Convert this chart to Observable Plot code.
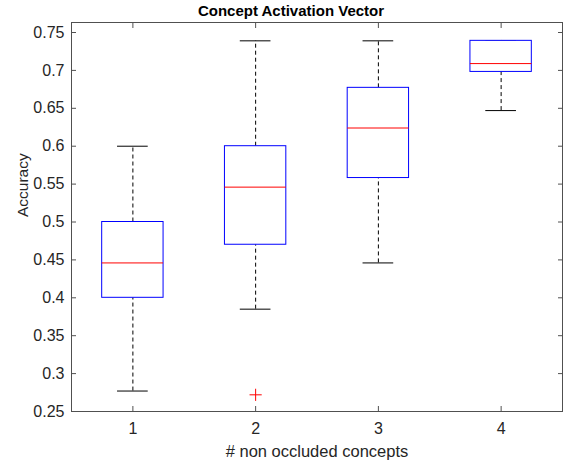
<!DOCTYPE html>
<html>
<head>
<meta charset="utf-8">
<script src="https://cdn.jsdelivr.net/npm/d3@7"></script>
<script src="https://cdn.jsdelivr.net/npm/@observablehq/plot@0.6"></script>
<style>
  body { margin: 0; background: #fff; }
  #wrap { position: relative; width: 571px; height: 460px; font-family: "Liberation Sans", Arial, sans-serif; }
  #title { position: absolute; z-index: 2; left: 0; top: 2px; width: 582px; text-align: center; font-weight: bold; font-size: 15px; color: #000; }
</style>
</head>
<body>
<div id="wrap"><div id="title">Concept Activation Vector</div></div>
<script>
const categories = [1, 2, 3, 4];
const lowerWhisker = [0.277, 0.385, 0.446, 0.647];
const q1 = [0.400, 0.470, 0.558, 0.698];
const median = [0.446, 0.546, 0.624, 0.709];
const q3 = [0.500, 0.600, 0.677, 0.739];
const upperWhisker = [0.600, 0.739, 0.739, 0.739];
const outlierCategory = [2];
const outlierValue = [0.272];
const yTicks = [0.25, 0.3, 0.35, 0.4, 0.45, 0.5, 0.55, 0.6, 0.65, 0.7, 0.75];
const xTicks = [1, 2, 3, 4];

const boxes = categories.map((c, i) => ({
  c, lo: lowerWhisker[i], q1: q1[i], med: median[i], q3: q3[i], hi: upperWhisker[i]
}));
const outliers = outlierCategory.map((c, i) => ({c, v: outlierValue[i]}));

const axisColor = "#505050";
const chart = Plot.plot({
  width: 571,
  height: 460,
  marginLeft: 71,
  marginRight: 9,
  marginTop: 22,
  marginBottom: 49,
  style: {fontFamily: "'Liberation Sans', Arial, sans-serif", fontSize: "16px", color: "#262626", background: "#fff"},
  x: {domain: [0.5, 4.5]},
  y: {domain: [0.25, 0.7632]},
  marks: [
    Plot.frame({stroke: axisColor}),
    Plot.axisX({anchor: "bottom", ticks: xTicks, tickSize: -5, tickPadding: 16, stroke: axisColor, fill: "#262626", fontSize: 16, tickFormat: d => String(d), label: null}),
    Plot.axisX({anchor: "top", ticks: xTicks, tickSize: -5, tickFormat: () => "", stroke: axisColor, label: null}),
    Plot.axisY({anchor: "left", ticks: yTicks, tickSize: -5, tickPadding: 12, stroke: axisColor, fill: "#262626", fontSize: 16, tickFormat: d => String(+d.toFixed(2)), label: null}),
    Plot.axisY({anchor: "right", ticks: yTicks, tickSize: -5, tickFormat: () => "", stroke: axisColor, label: null}),
    // whiskers
    Plot.ruleX(boxes, {x: "c", y1: "q3", y2: "hi", stroke: "#000", strokeDasharray: "4,3", strokeWidth: 1}),
    Plot.ruleX(boxes, {x: "c", y1: "lo", y2: "q1", stroke: "#000", strokeDasharray: "4,3", strokeWidth: 1}),
    // caps
    Plot.ruleY(boxes, {y: "hi", x1: d => d.c - 0.125, x2: d => d.c + 0.125, stroke: "#000"}),
    Plot.ruleY(boxes, {y: "lo", x1: d => d.c - 0.125, x2: d => d.c + 0.125, stroke: "#000"}),
    // boxes
    Plot.rect(boxes, {x1: d => d.c - 0.25, x2: d => d.c + 0.25, y1: "q1", y2: "q3", fill: "white", stroke: "blue", strokeWidth: 1}),
    // medians
    Plot.ruleY(boxes, {y: "med", x1: d => d.c - 0.25, x2: d => d.c + 0.25, stroke: "red", strokeWidth: 1}),
    // outliers
    Plot.dot(outliers, {x: "c", y: "v", symbol: "plus", stroke: "red", r: 4, strokeWidth: 1}),
    // axis titles
    Plot.text(["# non occluded concepts"], {frameAnchor: "bottom", dy: 45, fontSize: 16.5, fill: "#262626"}),
    Plot.text(["Accuracy"], {frameAnchor: "left", dx: -48, rotate: -90, fontSize: 15.5, fill: "#262626"})
  ]
});
document.getElementById("wrap").appendChild(chart);
chart.style.position = "absolute";
chart.style.left = "0";
chart.style.top = "0";
chart.style.zIndex = "1";
</script>
</body>
</html>
